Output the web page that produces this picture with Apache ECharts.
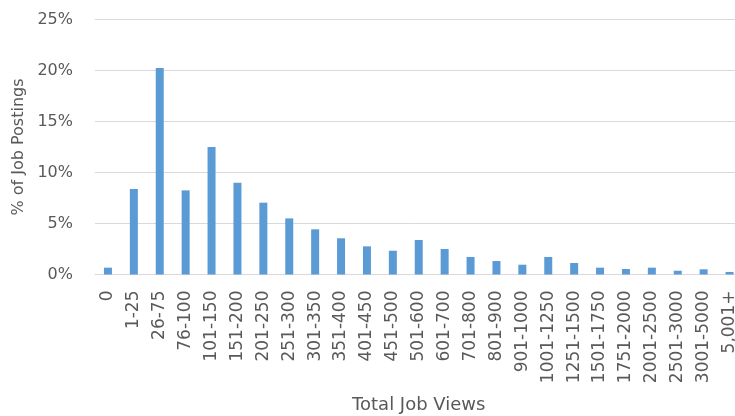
<!DOCTYPE html>
<html>
<head>
<meta charset="utf-8">
<script src="https://cdn.jsdelivr.net/npm/echarts@6/dist/echarts.min.js"></script>
<style>
  html, body { margin: 0; padding: 0; background: #fff; }
  #chart { width: 735px; height: 416px; }
</style>
</head>
<body>
<div id="chart"></div>
<script>
// View-count buckets
const categories = ['0', '1-25', '26-75', '76-100', '101-150', '151-200', '201-250', '251-300',
  '301-350', '351-400', '401-450', '451-500', '501-600', '601-700', '701-800', '801-900',
  '901-1000', '1001-1250', '1251-1500', '1501-1750', '1751-2000', '2001-2500', '2501-3000',
  '3001-5000', '5,001+'];

// Share of job postings in each bucket (%)
const shares = [0.67, 8.38, 20.25, 8.25, 12.5, 9.0, 7.04, 5.5, 4.43, 3.55, 2.76, 2.33,
  3.38, 2.5, 1.72, 1.32, 0.96, 1.72, 1.13, 0.67, 0.54, 0.67, 0.37, 0.51, 0.25];

// Percent axis ticks
const yTicks = { min: 0, max: 25, step: 5 };

const font = 'DejaVu Sans';
const textColor = '#595959';
const lineColor = '#d9d9d9';

const chart = echarts.init(document.getElementById('chart'), null, { renderer: 'canvas' });
chart.setOption({
  animation: false,
  // plot area runs slightly past the right edge, so the last label is clipped
  grid: {
    left: 95, width: 647.5, top: 19.5, height: 255,
    containLabel: false, outerBoundsMode: 'none'
  },
  xAxis: {
    type: 'category',
    data: categories,
    boundaryGap: true,
    name: 'Total Job Views',
    nameLocation: 'middle',
    nameGap: 122,
    nameTextStyle: { fontFamily: font, fontSize: 18, color: textColor },
    axisLine: { lineStyle: { color: lineColor, width: 1 } },
    axisTick: { show: false },
    axisLabel: {
      interval: 0, rotate: 90, margin: 16,
      fontFamily: font, fontSize: 17, color: textColor
    }
  },
  yAxis: {
    type: 'value',
    min: yTicks.min,
    max: yTicks.max,
    interval: yTicks.step,
    name: '% of Job Postings',
    nameLocation: 'middle',
    nameGap: 63,
    nameTextStyle: { fontFamily: font, fontSize: 16, color: textColor },
    axisLine: { show: false },
    axisTick: { show: false },
    axisLabel: {
      margin: 22, formatter: '{value}%',
      fontFamily: font, fontSize: 16, color: textColor
    },
    splitLine: { lineStyle: { color: lineColor, width: 1 } }
  },
  series: [{
    type: 'bar',
    data: shares,
    barWidth: 8,
    itemStyle: { color: '#5b9bd5' }
  }]
});
</script>
</body>
</html>
